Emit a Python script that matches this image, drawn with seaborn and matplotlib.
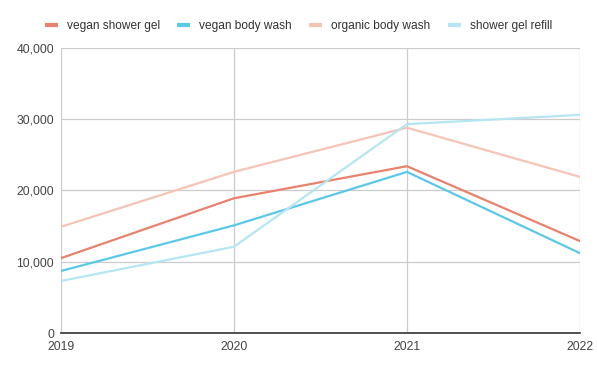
import numpy as np
import pandas as pd
import matplotlib
matplotlib.use('Agg')
import matplotlib.pyplot as plt
import seaborn as sns
from matplotlib.ticker import FuncFormatter

# data------------------------------
years = [2019, 2020, 2021, 2022]
vegan_shower_gel = [10500, 18900, 23400, 12900]
vegan_body_wash = [8700, 15100, 22600, 11200]
organic_body_wash = [14900, 22600, 28800, 21900]
shower_gel_refill = [7300, 12100, 29300, 30600]

series_names = ['vegan shower gel', 'vegan body wash', 'organic body wash', 'shower gel refill']
colors = ['#E8826E', '#5BC8E8', '#F5C4B6', '#B5E6F3']

# long form for seaborn
df = pd.DataFrame({
    'year': years * 4,
    'value': vegan_shower_gel + vegan_body_wash + organic_body_wash + shower_gel_refill,
    'series': [n for n in series_names for _ in years],
})

sns.set_theme(style='whitegrid')
plt.rcParams['font.family'] = ['Liberation Sans', 'DejaVu Sans']

fig = plt.figure(figsize=(5.97, 3.68), dpi=100)
ax = fig.add_axes([0.102, 0.095, 0.8695, 0.775])

sns.lineplot(data=df, x='year', y='value', hue='series', palette=colors,
             hue_order=series_names, linewidth=1.6, ax=ax, legend=False)

ax.set_xlim(2019, 2022)
ax.set_ylim(0, 40000)
ax.set_xticks(years)
ax.set_yticks([0, 10000, 20000, 30000, 40000])
ax.yaxis.set_major_formatter(FuncFormatter(lambda v, p: f'{int(v):,}'))
ax.set_xlabel('')
ax.set_ylabel('')
ax.grid(True, color='#CCCCCC', linewidth=0.9)
for s in ['left', 'right', 'top']:
    ax.spines[s].set_visible(False)
ax.spines['bottom'].set_visible(True)
ax.spines['bottom'].set_color('#333333')
ax.spines['bottom'].set_linewidth(1.2)
ax.tick_params(axis='both', labelsize=8.7, colors='#444444', length=0)
ax.tick_params(axis='y', pad=5)
ax.tick_params(axis='x', pad=5.5)

# legend with small rectangular markers
handles = [plt.Line2D([0], [0], color=c, linewidth=3, solid_capstyle='butt') for c in colors]
fig.legend(handles, series_names, loc='upper center', bbox_to_anchor=(0.5, 0.975),
           ncol=4, frameon=False, fontsize=8.6, handlelength=1.1, columnspacing=1.45,
           handletextpad=0.75, labelcolor='#333333')

fig.savefig('out.png', dpi=100)
